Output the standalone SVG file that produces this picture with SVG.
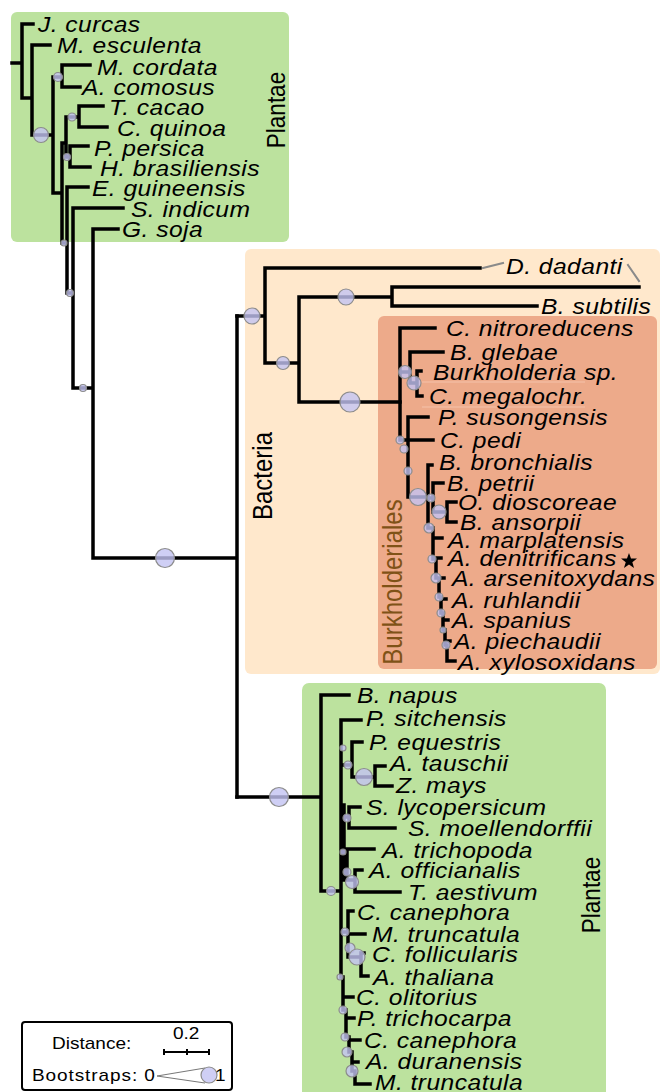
<svg xmlns="http://www.w3.org/2000/svg" width="660" height="1092" viewBox="0 0 660 1092">
<style>
.br{stroke:#000;stroke-width:3.5;fill:none;stroke-linecap:square}
.bs{fill:#c3c3f3;fill-opacity:0.8;stroke:#8c8c8c;stroke-width:1.2}
.lf{font-family:"Liberation Sans",Arial,sans-serif;font-style:italic;font-size:22px;letter-spacing:0.4px;fill:#000}
.cl{font-family:"Liberation Sans",Arial,sans-serif;font-size:22.5px;text-anchor:middle}
.lg{font-family:"Liberation Sans",Arial,sans-serif;font-size:17px;fill:#000}
.gr{stroke:#8a8a8a;stroke-width:2;fill:none}
</style>
<rect width="660" height="1092" fill="#fff"/>
<g id="clade-plantae-top">
<rect x="11" y="12" width="278" height="230" rx="6" fill="#bce29e"/>
<text class="cl" transform="translate(285,110) scale(1.12,1) rotate(-90)">Plantae</text>
</g>
<g id="clade-bacteria">
<rect x="245" y="249" width="415" height="425" rx="6" fill="#ffe8cc"/>
<text class="cl" style="font-size:24px" transform="translate(272,476) scale(1.12,1) rotate(-90)">Bacteria</text>
</g>
<g id="clade-burkholderiales">
<rect x="378" y="316" width="279" height="353" rx="6" fill="#edaa8a"/>
<line x1="422" y1="382" x2="585" y2="382" stroke="#f5c2aa" stroke-width="1"/>
<line x1="422" y1="407" x2="585" y2="407" stroke="#f5c2aa" stroke-width="1"/>
<text class="cl" style="font-size:24px" fill="#7f5217" transform="translate(402,582) scale(1.12,1) rotate(-90)">Burkholderiales</text>
</g>
<g id="clade-plantae-bottom">
<rect x="302" y="683" width="304" height="420" rx="7" fill="#bce29e"/>
<text class="cl" transform="translate(600,895) scale(1.12,1) rotate(-90)">Plantae</text>
</g>
<g id="connectors" class="br">
<path d="M12,63H22M22,24V98M22,24H33M22,98H32M32,45V135M32,45H50M32,135H53M53,77V193M53,77H62M62,65V87M62,65H90M62,87H80M53,193H62M62,143V243M62,143H66M66,117V157M66,117H79M79,106V127M79,106H103M79,127H107M66,157H70M70,146V167M70,146H88M70,167H90M62,243H67M67,187V293M67,187H88M67,293H73M73,208V388M73,208H123M73,388H93M93,229V558M93,229H118M93,558H237M237,316V797"/>
<path d="M237,316H265M265,268V363M265,268H480M265,363H299M299,297V402M299,297H392M392,287V306M392,287H639M392,306H537M299,402H400"/>
<path d="M400,328V440M400,328H435M400,372H410M410,352V383M410,352H443M410,383H417M417,371V396M417,371H421M417,396H422M400,440H408M408,417V497M408,417H428M408,440H433M408,497H428M428,465V528M428,465H432M428,498H433M433,483V512M433,483H443M433,512H447M447,502V522M447,502H456M447,522H456M428,528H433M433,528V559M433,538H442M433,559H436M436,558V578M436,558H441M436,578H439M439,578V597M439,578H444M439,597H441M441,597V613M441,599H446M441,613H443M443,613V630M443,620H448M443,630H445M445,630V645M445,641H450M445,645H447M447,645V661M447,661H455"/>
<path d="M237,797H321M321,695V891M321,695H349M321,891H341M341,720V977M341,720H361M344,805V880M341,765H352M352,742V777M352,742H362M352,777H375M375,766V786M375,766H385M375,786H392M341,817H349M349,807V828M349,807H360M349,828H395M341,852H347M347,849V880M347,849H374M347,880H355M355,870V892M355,870H362M355,892H400M341,932H348M348,911V957M348,911H353M348,934H365M348,957H361M361,953V976M361,953H364M361,976H368M341,977H343M343,977V1010M343,997H353M343,1010H346M346,1010V1037M346,1018H354M346,1037H349M349,1037V1052M349,1040H360M349,1052H352M352,1052V1071M352,1062H358M352,1071H355M355,1071V1084M355,1084H370"/>
<path class="gr" d="M483,268L503,263M628,265L639,281"/>
</g>
<g id="bootstraps" class="bs">
<circle cx="41" cy="135" r="7.5"/><circle cx="58" cy="77" r="4.5"/><circle cx="72" cy="117" r="4"/><circle cx="67" cy="157" r="3.5"/><circle cx="64" cy="243" r="3"/><circle cx="70" cy="293" r="3.5"/><circle cx="83" cy="388" r="3.5"/><circle cx="165" cy="558" r="9.5"/>
<circle cx="252" cy="316" r="8"/><circle cx="283" cy="363" r="6.5"/><circle cx="346" cy="297" r="8"/><circle cx="350" cy="402" r="10"/>
<circle cx="405" cy="372" r="6.5"/><circle cx="414" cy="383" r="7"/><circle cx="400" cy="440" r="4"/><circle cx="404" cy="449" r="4"/><circle cx="408" cy="471" r="4"/><circle cx="418" cy="497" r="8.5"/><circle cx="431" cy="498" r="4"/><circle cx="439" cy="512" r="7"/><circle cx="429" cy="528" r="5"/><circle cx="432" cy="559" r="4"/><circle cx="436" cy="578" r="5"/><circle cx="439" cy="597" r="4"/><circle cx="441" cy="613" r="4"/><circle cx="443" cy="630" r="3"/><circle cx="446" cy="645" r="4"/>
<circle cx="279" cy="797" r="9.5"/><circle cx="331" cy="891" r="4.5"/><circle cx="343" cy="748" r="3"/><circle cx="348" cy="765" r="4"/><circle cx="364" cy="777" r="8.5"/><circle cx="347" cy="818" r="4"/><circle cx="343" cy="852" r="3"/><circle cx="347" cy="872" r="4"/><circle cx="352" cy="882" r="6.5"/><circle cx="345" cy="932" r="4"/><circle cx="350" cy="948" r="5"/><circle cx="357" cy="957" r="8"/><circle cx="340" cy="977" r="3"/><circle cx="343" cy="1010" r="4"/><circle cx="345" cy="1037" r="4"/><circle cx="347" cy="1052" r="5"/><circle cx="352" cy="1071" r="6"/>
</g>
<g id="leaves" class="lf" transform="scale(1.12,1)">
<g id="n-jcurcas"><text x="33.93" y="32">J. curcas</text></g>
<g id="n-mesculenta"><text x="50.89" y="53">M. esculenta</text></g>
<g id="n-mcordata"><text x="86.61" y="75">M. cordata</text></g>
<g id="n-acomosus"><text x="73.21" y="95">A. comosus</text></g>
<g id="n-tcacao"><text x="97.32" y="115">T. cacao</text></g>
<g id="n-cquinoa"><text x="104.46" y="136">C. quinoa</text></g>
<g id="n-ppersica"><text x="83.93" y="156">P. persica</text></g>
<g id="n-hbrasiliensis"><text x="89.29" y="176">H. brasiliensis</text></g>
<g id="n-eguineensis"><text x="82.14" y="196">E. guineensis</text></g>
<g id="n-sindicum"><text x="116.96" y="217">S. indicum</text></g>
<g id="n-gsoja"><text x="108.93" y="237">G. soja</text></g>
<g id="n-ddadanti"><text x="451.79" y="274">D. dadanti</text></g>
<g id="n-bsubtilis"><text x="483.04" y="314">B. subtilis</text></g>
<g id="n-cnitroreducens"><text x="398.21" y="336">C. nitroreducens</text></g>
<g id="n-bglebae"><text x="401.79" y="360">B. glebae</text></g>
<g id="n-burkholderia"><text x="386.61" y="380">Burkholderia sp.</text></g>
<g id="n-cmegalochr"><text x="383.04" y="404">C. megalochr.</text></g>
<g id="n-psusongensis"><text x="391.07" y="425">P. susongensis</text></g>
<g id="n-cpedi"><text x="392.86" y="448">C. pedi</text></g>
<g id="n-bbronchialis"><text x="391.96" y="470">B. bronchialis</text></g>
<g id="n-bpetrii"><text x="399.11" y="491">B. petrii</text></g>
<g id="n-odioscoreae"><text x="408.93" y="510">O. dioscoreae</text></g>
<g id="n-bansorpii"><text x="410.71" y="530">B. ansorpii</text></g>
<g id="n-amarplatensis"><text x="400" y="548">A. marplatensis</text></g>
<g id="n-adenitrificans"><text x="400" y="566">A. denitrificans</text><polygon points="561.6,553 563.4,558.5 568.75,558.6 564.6,562.2 566.1,568 561.6,564.6 557.1,568 558.7,562.2 554.5,558.6 559.8,558.5" fill="#000"/></g>
<g id="n-aarsenitoxydans"><text x="403.57" y="586">A. arsenitoxydans</text></g>
<g id="n-aruhlandii"><text x="403.57" y="608">A. ruhlandii</text></g>
<g id="n-aspanius"><text x="403.57" y="628">A. spanius</text></g>
<g id="n-apiechaudii"><text x="405.36" y="649">A. piechaudii</text></g>
<g id="n-axylosoxidans"><text x="408.93" y="670">A. xylosoxidans</text></g>
<g id="n-bnapus"><text x="318.75" y="703">B. napus</text></g>
<g id="n-psitchensis"><text x="326.79" y="726">P. sitchensis</text></g>
<g id="n-pequestris"><text x="329.46" y="750">P. equestris</text></g>
<g id="n-atauschii"><text x="348.21" y="771">A. tauschii</text></g>
<g id="n-zmays"><text x="353.57" y="793">Z. mays</text></g>
<g id="n-slycopersicum"><text x="326.79" y="815">S. lycopersicum</text></g>
<g id="n-smoellendorffii"><text x="364.29" y="836">S. moellendorffii</text></g>
<g id="n-atrichopoda"><text x="341.07" y="858">A. trichopoda</text></g>
<g id="n-aofficianalis"><text x="329.46" y="878">A. officianalis</text></g>
<g id="n-taestivum"><text x="364.29" y="900">T. aestivum</text></g>
<g id="n-ccanephora1"><text x="318.75" y="920">C. canephora</text></g>
<g id="n-mtruncatula1"><text x="332.14" y="942">M. truncatula</text></g>
<g id="n-cfollicularis"><text x="332.14" y="962">C. follicularis</text></g>
<g id="n-athaliana"><text x="333.04" y="985">A. thaliana</text></g>
<g id="n-colitorius"><text x="317.86" y="1005">C. olitorius</text></g>
<g id="n-ptrichocarpa"><text x="318.75" y="1026">P. trichocarpa</text></g>
<g id="n-ccanephora2"><text x="325" y="1048">C. canephora</text></g>
<g id="n-aduranensis"><text x="326.79" y="1069">A. duranensis</text></g>
<g id="n-mtruncatula2"><text x="334.82" y="1090">M. truncatula</text></g>
</g>
<g id="legend">
<rect x="22" y="1022" width="210" height="68" rx="3" fill="#fff" stroke="#000" stroke-width="2"/>
<path d="M164,1052H209M164,1049V1055M187,1049V1055M209,1049V1055" stroke="#000" stroke-width="2" fill="none"/>
<path d="M205,1068L157,1076L205,1083" stroke="#777" stroke-width="1" fill="none"/>
<circle class="bs" cx="209" cy="1075" r="8"/>
<g transform="scale(1.12,1)">
<text class="lg" x="46.43" y="1049">Distance:</text>
<text class="lg" x="154.46" y="1039">0.2</text>
<text class="lg" x="28.57" y="1081" style="letter-spacing:0.8px">Bootstraps: 0</text>
<text class="lg" x="191.96" y="1081">1</text>
</g>
</g>
</svg>
